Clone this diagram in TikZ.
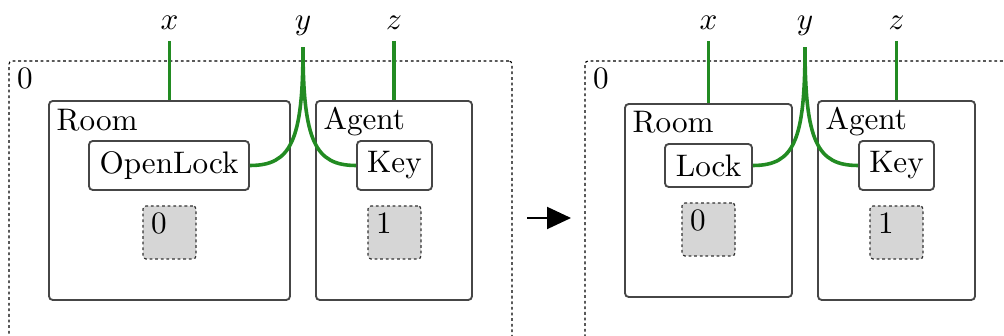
\documentclass[tikz,border=0pt]{standalone}
\usetikzlibrary{fit,arrows.meta}
\definecolor{wirecol}{RGB}{34,139,34}
\definecolor{edgecol}{RGB}{70,70,70}
\definecolor{sitecol}{RGB}{214,214,214}
\newlength\pxu
\setlength\pxu{0.321pt}
\begin{document}
\begin{tikzpicture}[x=0.321pt,y=-0.321pt,
  outerbox/.style={draw=black, dash pattern=on 0.9pt off 0.9pt, line width=0.35pt, rounded corners=1pt, inner sep=0pt},
  cellbox/.style={draw=edgecol, line width=0.6pt, rounded corners=1.2pt, inner sep=0pt},
  textbox/.style={cellbox, minimum height=49\pxu},
  sitebox/.style={draw=black!80, fill=sitecol, dash pattern=on 0.9pt off 0.9pt, line width=0.4pt, rounded corners=1pt, inner sep=0pt},
  lbl/.style={anchor=north west, inner sep=0pt},
  varlbl/.style={anchor=base},
  wire/.style={draw=wirecol, line width=1.15pt},
  arrowline/.style={-{Triangle[length=7.7pt,width=7.1pt]}, line width=0.5pt}
]
\clip (0,0) rectangle (1004,336);
% ---------- left configuration ----------
\node[outerbox, fit={(9,61) (512,345)}] (W1) {};
\node[lbl] (W1l) at ([shift={(8,7)}]W1.north west) {0};
\node[cellbox, fit={(49,101) (290,300)}] (R1) {};
\node[lbl] (R1l) at ([shift={(8,9)}]R1.north west) {Room};
\node[cellbox, fit={(316,101) (472,300)}] (A1) {};
\node[lbl] (A1l) at ([shift={(8,7)}]A1.north west) {Agent};
\node[textbox, minimum width=160\pxu] (P1) at (169,165.5) {OpenLock};
\node[textbox, minimum width=75\pxu] (K1) at (394.5,165.5) {Key};
\node[sitebox, fit={(143,206) (196,259)}] (S1) {};
\node[lbl] (S1l) at ([shift={(8,7)}]S1.north west) {0};
\node[sitebox, fit={(368,206) (421,259)}] (T1) {};
\node[lbl] (T1l) at ([shift={(8,7)}]T1.north west) {1};
\node[varlbl] (x1) at (169.5,30) {$x$};
\node[varlbl] (y1) at (303,30) {$y$};
\node[varlbl] (z1) at (394,30) {$z$};
\draw[wire] (x1.south) -- (R1.north);
\draw[wire] (z1.south) -- (A1.north);
\draw[wire] (y1.south) .. controls +(0,94) and +(41,0) .. (P1.east);
\draw[wire] (y1.south) .. controls +(0,94) and +(-41,0) .. (K1.west);
% ---------- arrow ----------
\coordinate (a0) at (527,218);
\coordinate (a1) at (571,218);
\draw[arrowline] (a0) -- (a1);
% ---------- right configuration ----------
\node[outerbox, fit={(585,61) (1090,345)}] (W2) {};
\node[lbl] (W2l) at ([shift={(8,7)}]W2.north west) {0};
\node[cellbox, fit={(625,104) (792,297)}] (R2) {};
\node[lbl] (R2l) at ([shift={(8,8)}]R2.north west) {Room};
\node[cellbox, fit={(818,101) (975,300)}] (A2) {};
\node[lbl] (A2l) at ([shift={(8,7)}]A2.north west) {Agent};
\node[textbox, minimum width=87\pxu, minimum height=43\pxu] (P2) at (708.5,165.5) {Lock};
\node[textbox, minimum width=75\pxu] (K2) at (896.5,165.5) {Key};
\node[sitebox, fit={(682,203) (735,256)}] (S2) {};
\node[lbl] (S2l) at ([shift={(8,7)}]S2.north west) {0};
\node[sitebox, fit={(870,206) (923,259)}] (T2) {};
\node[lbl] (T2l) at ([shift={(8,7)}]T2.north west) {1};
\node[varlbl] (x2) at (708.5,30) {$x$};
\node[varlbl] (y2) at (805,30) {$y$};
\node[varlbl] (z2) at (896.5,30) {$z$};
\draw[wire] (x2.south) -- (R2.north);
\draw[wire] (z2.south) -- (A2.north);
\draw[wire] (y2.south) .. controls +(0,94) and +(41,0) .. (P2.east);
\draw[wire] (y2.south) .. controls +(0,94) and +(-41,0) .. (K2.west);
\end{tikzpicture}
\end{document}
